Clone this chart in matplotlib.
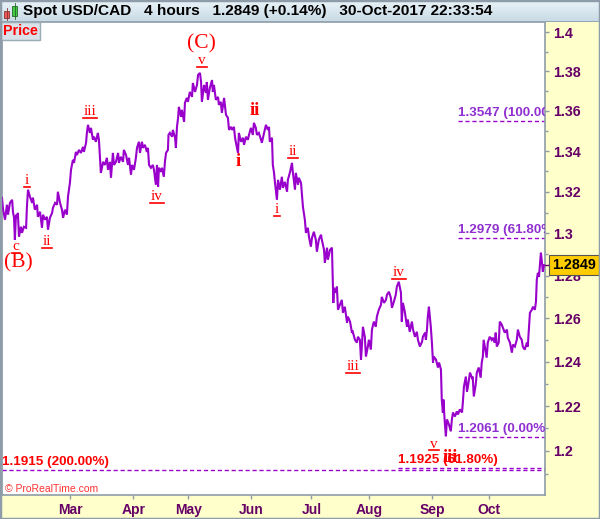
import numpy as np
import matplotlib
matplotlib.use("Agg")
import matplotlib.pyplot as plt
import matplotlib.ticker as mticker
import matplotlib.transforms as mtransforms
from matplotlib.lines import Line2D
from matplotlib.patches import Rectangle

plt.rcParams['font.family'] = ['Liberation Sans', 'DejaVu Sans']
plt.rcParams['font.weight'] = 'bold'

# USD/CAD, 4 hour chart -- position in trading days since 25-Jan-2017, close
days = [
    0.0, 0.4, 1.1, 1.8, 2.2, 2.9, 3.7, 4.0, 4.4, 4.7, 5.1, 5.5, 5.8, 6.2, 6.9, 7.3, 8.0, 8.8, 9.1, 9.5,
    10.2, 11.0, 11.3, 12.0, 12.8, 13.1, 13.9, 14.6, 15.0, 15.7, 16.4, 16.8, 17.5, 18.3, 18.6, 19.4, 20.1, 20.4,
    21.2, 21.9, 22.3, 23.0, 23.7, 24.1, 24.8, 25.2, 25.9, 26.3, 27.0, 27.4, 28.1, 28.8, 29.6, 29.9, 30.7, 31.0,
    31.4, 32.1, 32.5, 33.2, 33.6, 34.3, 35.0, 35.4, 36.1, 36.5, 36.9, 37.6, 38.3, 38.7, 39.4, 39.8, 40.5, 40.9,
    41.6, 42.4, 42.7, 43.4, 44.2, 44.5, 45.3, 46.0, 46.4, 47.1, 47.5, 48.2, 48.9, 49.3, 50.0, 50.4, 51.1, 51.5,
    52.2, 52.9, 53.3, 53.7, 54.4, 55.1, 55.5, 56.2, 56.6, 57.0, 57.3, 58.1, 58.4, 59.1, 59.5, 59.9, 60.6, 60.8,
    61.3, 62.1, 62.4, 63.2, 63.5, 63.9, 64.3, 64.6, 65.4, 65.7, 66.5, 66.8, 67.5, 67.9, 68.6, 69.4, 69.7, 70.5,
    71.2, 71.6, 72.3, 72.7, 73.0, 73.8, 74.5, 74.8, 75.2, 75.9, 76.7, 77.0, 77.4, 78.1, 78.9, 79.2, 79.9, 80.3,
    81.1, 81.8, 82.5, 82.9, 83.6, 84.0, 84.7, 85.1, 85.8, 86.2, 86.5, 87.3, 88.0, 88.4, 89.1, 89.8, 90.2, 90.9,
    91.6, 92.0, 92.7, 93.1, 93.8, 94.6, 94.9, 95.7, 96.4, 97.1, 97.5, 97.8, 98.6, 98.9, 99.3, 99.7, 100.4, 100.8,
    101.5, 102.2, 102.6, 103.3, 104.1, 104.4, 105.2, 105.9, 106.2, 107.0, 107.3, 108.1, 108.4, 109.2, 109.5,
    109.9, 110.6, 111.0, 111.7, 112.1, 112.8, 113.2, 113.9, 114.6, 115.0, 115.7, 116.5, 116.8, 117.6, 117.9,
    118.7, 119.0, 119.8, 120.5, 120.8, 121.0, 121.2, 121.9, 122.3, 122.7, 123.4, 124.1, 124.5, 125.2, 126.0,
    126.3, 127.1, 127.8, 128.1, 128.9, 129.6, 130.0, 130.7, 131.1, 131.4, 131.8, 132.5, 132.9, 133.6, 134.0,
    134.7, 135.1, 135.8, 136.5, 136.9, 137.6, 138.4, 138.7, 139.5, 140.2, 140.6, 141.3, 142.0, 142.4, 143.1,
    143.8, 144.2, 144.9, 145.7, 146.0, 146.4, 147.1, 147.9, 148.2, 148.9, 149.7, 150.1, 150.8, 151.5, 151.9,
    152.6, 153.4, 153.7, 154.5, 154.8, 155.2, 155.5, 155.9, 156.6, 157.0, 157.4, 157.7, 158.5, 159.2, 159.6,
    160.3, 160.6, 161.0, 161.2, 161.7, 162.1, 162.5, 163.2, 163.9, 164.3, 164.7, 165.4, 166.1, 166.5, 167.2,
    168.0, 168.3, 168.7, 169.4, 169.8, 170.1, 170.9, 171.6, 171.9, 172.3, 173.0, 173.4, 174.1, 174.8, 175.2,
    175.6, 175.9, 176.3, 177.0, 177.4, 178.1, 178.8, 179.2, 179.9, 180.3, 180.7, 181.4, 181.8, 182.5, 182.9,
    183.6, 184.4, 184.7, 185.5, 186.2, 186.6, 187.3, 188.0, 188.4, 189.1, 189.8, 190.2, 190.9, 191.7, 192.0,
    192.8, 193.5, 193.9, 194.6, 195.0, 195.3, 195.7, 196.1, 196.8, 197.2, 197.5, 197.9,
]
closes = [
    1.3172, 1.3114, 1.3066, 1.3138, 1.3090, 1.3147, 1.3162, 1.3104, 1.3075, 1.2970, 1.3090, 1.3075, 1.3099,
    1.2984, 1.3032, 1.3003, 1.3032, 1.3027, 1.3128, 1.3211, 1.3177, 1.3147, 1.3172, 1.3114, 1.3138, 1.3080,
    1.3104, 1.3027, 1.3090, 1.3066, 1.3080, 1.3018, 1.3075, 1.3099, 1.3123, 1.3147, 1.3138, 1.3201, 1.3147,
    1.3114, 1.3075, 1.3114, 1.3090, 1.3177, 1.3244, 1.3308, 1.3357, 1.3342, 1.3396, 1.3381, 1.3406, 1.3391,
    1.3421, 1.3396, 1.3441, 1.3490, 1.3530, 1.3490, 1.3515, 1.3456, 1.3471, 1.3446, 1.3490, 1.3456, 1.3293,
    1.3318, 1.3347, 1.3332, 1.3367, 1.3308, 1.3347, 1.3269, 1.3391, 1.3332, 1.3347, 1.3391, 1.3342, 1.3372,
    1.3347, 1.3406, 1.3381, 1.3332, 1.3367, 1.3284, 1.3332, 1.3308, 1.3367, 1.3416, 1.3446, 1.3391, 1.3446,
    1.3416, 1.3431, 1.3396, 1.3416, 1.3332, 1.3318, 1.3332, 1.3308, 1.3235, 1.3332, 1.3225, 1.3318, 1.3298,
    1.3318, 1.3274, 1.3347, 1.3391, 1.3406, 1.3480, 1.3490, 1.3471, 1.3505, 1.3466, 1.3416, 1.3520, 1.3565,
    1.3620, 1.3570, 1.3605, 1.3545, 1.3640, 1.3665, 1.3645, 1.3695, 1.3670, 1.3740, 1.3695, 1.3730, 1.3781,
    1.3791, 1.3745, 1.3645, 1.3730, 1.3690, 1.3745, 1.3655, 1.3715, 1.3755, 1.3695, 1.3730, 1.3655, 1.3670,
    1.3630, 1.3645, 1.3590, 1.3665, 1.3580, 1.3565, 1.3505, 1.3520, 1.3505, 1.3520, 1.3466, 1.3416, 1.3391,
    1.3490, 1.3446, 1.3466, 1.3431, 1.3471, 1.3456, 1.3480, 1.3515, 1.3480, 1.3540, 1.3515, 1.3480, 1.3490,
    1.3456, 1.3441, 1.3490, 1.3530, 1.3505, 1.3520, 1.3446, 1.3466, 1.3332, 1.3298, 1.3244, 1.3162, 1.3259,
    1.3211, 1.3274, 1.3220, 1.3249, 1.3201, 1.3259, 1.3298, 1.3342, 1.3298, 1.3211, 1.3293, 1.3235, 1.3269,
    1.3244, 1.3196, 1.3128, 1.3066, 1.3003, 1.3027, 1.2984, 1.2937, 1.2979, 1.3008, 1.2970, 1.2913, 1.2970,
    1.2994, 1.2970, 1.2922, 1.2860, 1.2932, 1.2875, 1.2922, 1.2932, 1.2766, 1.2672, 1.2743, 1.2719, 1.2748,
    1.2640, 1.2663, 1.2686, 1.2626, 1.2654, 1.2580, 1.2608, 1.2585, 1.2534, 1.2538, 1.2501, 1.2488, 1.2515,
    1.2501, 1.2410, 1.2465, 1.2561, 1.2515, 1.2424, 1.2470, 1.2501, 1.2456, 1.2548, 1.2585, 1.2561, 1.2608,
    1.2640, 1.2663, 1.2700, 1.2672, 1.2686, 1.2710, 1.2724, 1.2696, 1.2649, 1.2677, 1.2710, 1.2748, 1.2771,
    1.2719, 1.2585, 1.2672, 1.2631, 1.2561, 1.2594, 1.2538, 1.2585, 1.2548, 1.2515, 1.2538, 1.2501, 1.2470,
    1.2492, 1.2515, 1.2534, 1.2501, 1.2548, 1.2608, 1.2654, 1.2561, 1.2488, 1.2397, 1.2424, 1.2410, 1.2374,
    1.2397, 1.2365, 1.2229, 1.2171, 1.2229, 1.2127, 1.2065, 1.2140, 1.2118, 1.2087, 1.2140, 1.2171, 1.2153,
    1.2176, 1.2162, 1.2185, 1.2171, 1.2216, 1.2288, 1.2333, 1.2265, 1.2283, 1.2351, 1.2328, 1.2333, 1.2243,
    1.2297, 1.2351, 1.2374, 1.2328, 1.2397, 1.2424, 1.2501, 1.2470, 1.2419, 1.2488, 1.2515, 1.2501, 1.2511,
    1.2488, 1.2534, 1.2470, 1.2488, 1.2585, 1.2571, 1.2557, 1.2534, 1.2548, 1.2511, 1.2488, 1.2442, 1.2479,
    1.2470, 1.2501, 1.2548, 1.2515, 1.2501, 1.2470, 1.2456, 1.2488, 1.2470, 1.2626, 1.2640, 1.2654, 1.2640,
    1.2677, 1.2780, 1.2813, 1.2794, 1.2908, 1.2860, 1.2818, 1.2849,
]
last_price = 1.2849

# month ticks
start_date = '2017-01-25'
month_starts = ['2017-03-01', '2017-04-01', '2017-05-01', '2017-06-01',
                '2017-07-01', '2017-08-01', '2017-09-01', '2017-10-01']
month_names = ['Mar', 'Apr', 'May', 'Jun', 'Jul', 'Aug', 'Sep', 'Oct']
month_days = [int(np.busday_count(start_date, m)) for m in month_starts]

# fibonacci levels
fib_levels = [1.3547, 1.2979, 1.2061, 1.1925, 1.1915]
fib_labels = ['1.3547 (100.00%)', '1.2979 (61.80%)', '1.2061 (0.00%)',
              '1.1925 (61.80%)', '1.1915 (200.00%)']
fib_from = [166.5, 166.5, 166.5, 144.6, 0.0]
fib_text_red = [False, False, False, True, True]

# elliott wave labels
wave_text = ['c', '(B)', 'i', 'ii', 'iii', 'iv', '(C)', 'v', 'i', 'ii',
             'i', 'ii', 'iii', 'iv', 'v', 'iii']
wave_day = [5.1, 5.8, 9.1, 16.4, 32.1, 56.6, 73.0, 73.0, 86.2, 92.4,
            100.4, 106.2, 128.2, 144.9, 157.7, 163.6]
wave_price = [1.2937, 1.2860, 1.3254, 1.2960, 1.3595, 1.3177, 1.3938, 1.3852, 1.3347, 1.3600,
              1.3114, 1.3396, 1.2378, 1.2813, 1.2029, 1.1970]
wave_kind = ['u', 'big', 'u', 'u', 'u', 'u', 'big', 'u', 'bold', 'bold',
             'u', 'u', 'u', 'u', 'u', 'bold']

yticks = [1.20, 1.22, 1.24, 1.26, 1.28, 1.30, 1.32, 1.34, 1.36, 1.38, 1.40]
yminor = [1.19, 1.21, 1.23, 1.25, 1.27, 1.29, 1.31, 1.33, 1.35, 1.37, 1.39]

W, H = 600, 519
purple = '#9900cc'
axis_text = '#660066'
border = '#8d9ca8'
red = '#ff0000'

fig = plt.figure(figsize=(W / 100, H / 100), dpi=100, facecolor='#ffffcc')
ax = fig.add_axes([2 / W, (H - 495) / H, 543 / W, 473 / H])
ax.set_facecolor('white')

ax.plot(days, closes, color=purple, lw=1.5, solid_joinstyle='miter', zorder=3)

ax.set_yscale('log')
ax.set_ylim(1.1807, 1.4052)
ax.set_xlim(0, 198.3)

ax.yaxis.tick_right()
ax.yaxis.set_major_locator(mticker.FixedLocator(yticks))
ax.yaxis.set_major_formatter(mticker.FuncFormatter(lambda v, p: '%g' % round(v, 2)))
ax.yaxis.set_minor_locator(mticker.FixedLocator(yminor))
ax.yaxis.set_minor_formatter(mticker.NullFormatter())
ax.tick_params(axis='y', which='major', direction='out', length=3, width=1,
               color=border, labelcolor=axis_text, labelsize=10.3, pad=2.5)
ax.tick_params(axis='y', which='minor', direction='out', length=2, width=1, color=border)

ax.set_xticks(month_days)
ax.set_xticklabels(month_names)
ax.tick_params(axis='x', which='major', direction='out', length=3, width=1,
               color=border, labelcolor=axis_text, labelsize=10, pad=3)
for s in ax.spines.values():
    s.set_color(border)
    s.set_linewidth(1.2)

# fibonacci lines and labels
up = mtransforms.ScaledTranslation(0, 1.5 / 72, fig.dpi_scale_trans)
for lvl, lab, x0, is_red in zip(fib_levels, fib_labels, fib_from, fib_text_red):
    ax.plot([x0, 198.3], [lvl, lvl], color=purple, lw=1, ls=(0, (3, 2)), zorder=2)
    ax.text(x0, lvl, lab, transform=ax.transData + up, ha='left', va='bottom',
            fontsize=9.7, color=red if is_red else '#9030d0', clip_on=True, zorder=4)

# wave labels
wave_artists = []
for txt, d, p, kind in zip(wave_text, wave_day, wave_price, wave_kind):
    if kind == 'big':
        t = ax.text(d, p, txt, ha='center', va='center', color=red,
                    family='Liberation Serif', fontsize=15.5, fontweight='normal', zorder=5)
    elif kind == 'bold':
        t = ax.text(d, p, txt, ha='center', va='center', color=red,
                    family='Liberation Serif', fontsize=13.5, fontweight='bold', zorder=5)
    else:
        t = ax.text(d, p, txt, ha='center', va='center', color=red,
                    family='Liberation Serif', fontsize=11, fontweight='normal', zorder=5)
    wave_artists.append((t, kind))

# current price box
ax.annotate('%.4f' % last_price, xy=(1, last_price), xycoords=ax.get_yaxis_transform(),
            xytext=(5, 0), textcoords='offset points', ha='left', va='center',
            fontsize=10.3, color='black', annotation_clip=False, zorder=10,
            bbox=dict(boxstyle='square,pad=0.2', fc='#ffcc00', ec='#555555', lw=0.8))
ax.plot([1.0, 1.008], [last_price, last_price], transform=ax.get_yaxis_transform(),
        color=axis_text, lw=1, clip_on=False, zorder=9)

ax.text(3 / 543, 6 / 473, '\u00a9 ProRealTime.com', transform=ax.transAxes,
        ha='left', va='center', fontsize=7.5, fontweight='normal', color='#ff3333')

# header bar
hax = fig.add_axes([0, (H - 22) / H, 1, 22 / H])
grad = np.linspace(0, 1, 50).reshape(-1, 1)
hax.imshow(grad, aspect='auto', extent=[0, W, 22, 0],
           cmap=matplotlib.colors.LinearSegmentedColormap.from_list('hd', ['#eaf3f8', '#c8dae5']))
hax.set_xlim(0, W)
hax.set_ylim(22, 0)
hax.axis('off')
hax.add_patch(Rectangle((4, 11), 5, 7, fc='#ee5555', ec='#883333', lw=0.6))
hax.plot([6.5, 6.5], [8, 20], color='#883333', lw=0.6)
hax.add_patch(Rectangle((12, 6), 5, 10, fc='#44cc44', ec='#226622', lw=0.6))
hax.plot([14.5, 14.5], [3, 19], color='#226622', lw=0.6)
hax.text(23, 11.5, 'Spot USD/CAD   4 hours   1.2849 (+0.14%)   30-Oct-2017 22:33:54',
         ha='left', va='center', fontsize=11.1, color='black')
hax.plot([0, W], [21.5, 21.5], color=border, lw=1.2)

fig.text(3 / W, 1 - 31 / H, 'Price', ha='left', va='center', fontsize=10.3, color=red,
         bbox=dict(boxstyle='square,pad=0.15', fc='#d8e2e8', ec='#9aabb6', lw=1))

fig.patches.append(Rectangle((0, 0), 1, 1, transform=fig.transFigure, fill=False,
                             ec=border, lw=2.5, zorder=20))

# underline the small wave labels
fig.canvas.draw()
inv = ax.transData.inverted()
for t, kind in wave_artists:
    if kind != 'u':
        continue
    bb = t.get_window_extent()
    (x0, y0), (x1, _) = inv.transform([(bb.x0 - 1, bb.y0 + 0.5), (bb.x1 + 1, bb.y0 + 0.5)])
    ax.add_line(Line2D([x0, x1], [y0, y0], color=red, lw=1.2, zorder=5))

fig.savefig('out.png', dpi=100, facecolor=fig.get_facecolor())
